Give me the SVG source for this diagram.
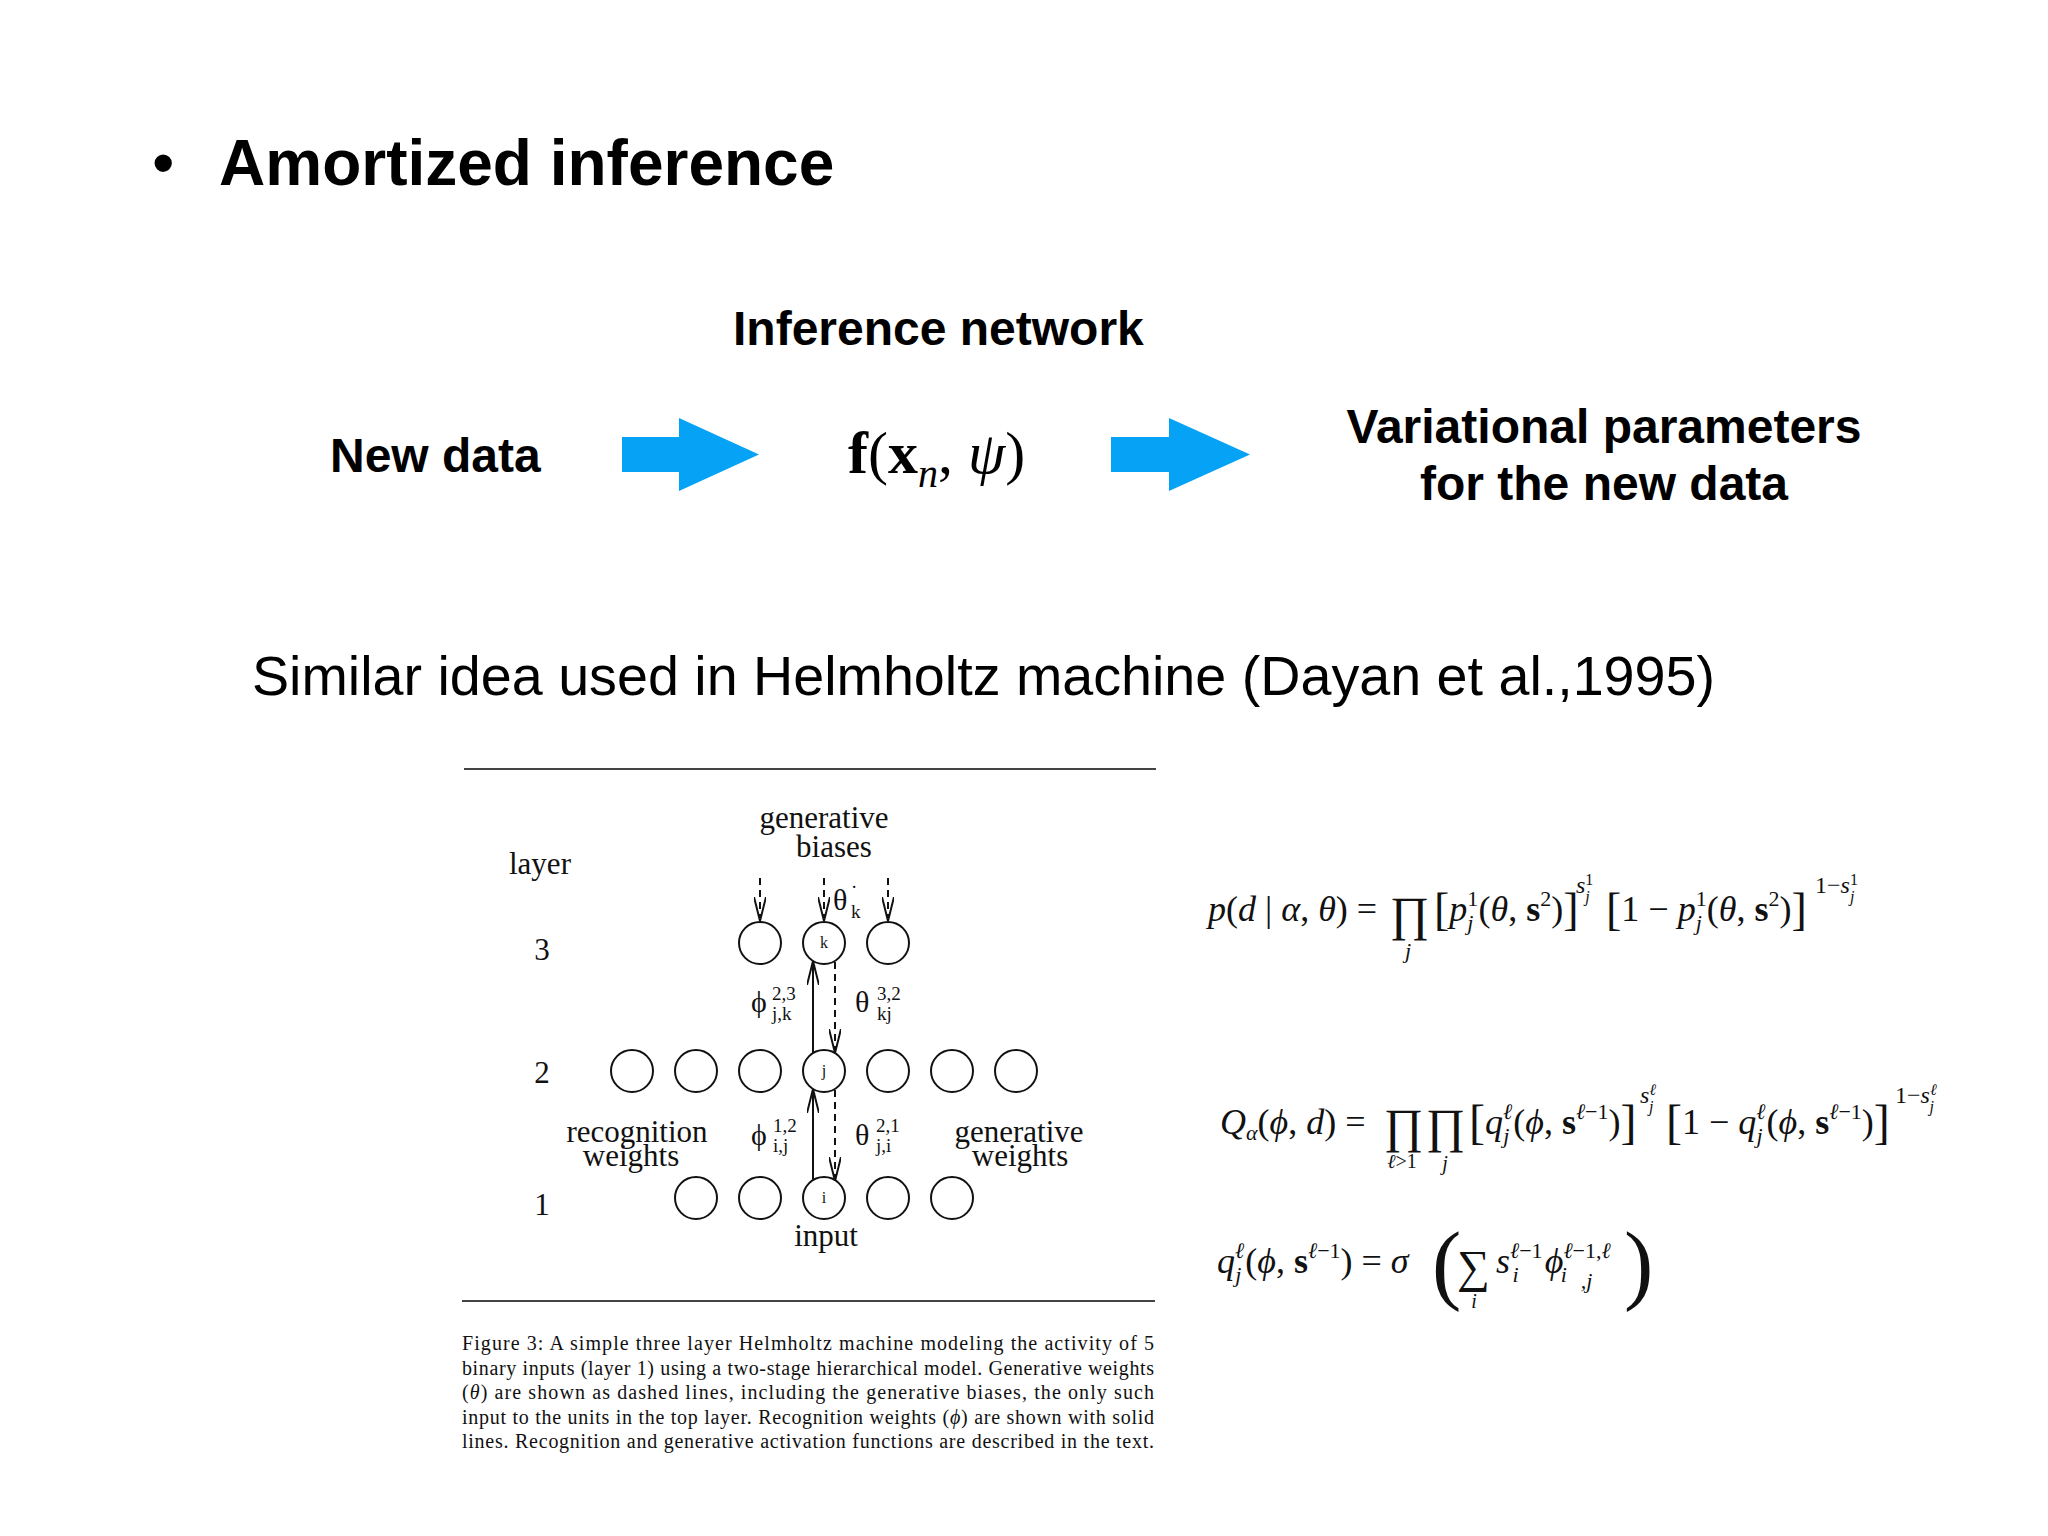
<svg xmlns="http://www.w3.org/2000/svg" width="2048" height="1536" viewBox="0 0 2048 1536">
<defs>
<style>
.sans{font-family:"Liberation Sans",Arial,sans-serif;fill:#000}
.b{font-weight:bold}
.ser{font-family:"Liberation Serif","DejaVu Serif",serif;fill:#111}
.it{font-style:italic}
.lab{font-size:31px}
.cap{font-size:20px}
.eq{font-size:36px}
.node{fill:none;stroke:#111;stroke-width:2}
.solid{stroke:#111;stroke-width:2;fill:none}
.dash{stroke:#111;stroke-width:2;fill:none;stroke-dasharray:7 5}
.blue{fill:#05a2f5}
.rule{stroke:#444;stroke-width:2}
</style>
<marker id="vh" viewBox="0 0 24 12" refX="24" refY="6" markerWidth="24" markerHeight="12" markerUnits="userSpaceOnUse" orient="auto">
<path d="M0,0 L24,6 L0,12" fill="none" stroke="#111" stroke-width="2"/>
</marker>
</defs>
<rect width="2048" height="1536" fill="#fff"/>

<g id="title">
<text class="sans" x="152" y="185" font-size="64">•</text>
<text class="sans b" x="219" y="185" font-size="64">Amortized inference</text>
</g>

<g id="inference-label"><text class="sans b" x="733" y="345" font-size="48">Inference network</text></g>
<g id="new-data"><text class="sans b" x="330" y="472" font-size="48">New data</text></g>
<g id="func"><text class="ser" x="848" y="473" font-size="60" style="fill:#000"><tspan font-weight="bold">f</tspan>(<tspan font-weight="bold">x</tspan><tspan class="it" font-size="40" dy="14">n</tspan><tspan dy="-14">,</tspan> <tspan class="it">ψ</tspan>)</text></g>
<g id="var-params">
<text class="sans b" x="1604" y="443" font-size="48" text-anchor="middle">Variational parameters</text>
<text class="sans b" x="1604" y="500" font-size="48" text-anchor="middle">for the new data</text>
</g>
<g id="big-arrows">
<polygon class="blue" points="622,437 679,437 679,418 759,454.5 679,491 679,472 622,472"/>
<polygon class="blue" points="1111,437 1169,437 1169,418 1250,454.5 1169,491 1169,472 1111,472"/>
</g>

<g id="similar"><text class="sans" x="252" y="695" font-size="56" textLength="1463" lengthAdjust="spacingAndGlyphs">Similar idea used in Helmholtz machine (Dayan et al.,1995)</text></g>

<line class="rule" x1="464" y1="769" x2="1156" y2="769"/>
<line class="rule" x1="462" y1="1301" x2="1155" y2="1301"/>

<g id="fig-labels" class="ser lab">
<text x="509" y="874">layer</text>
<text x="824" y="828" text-anchor="middle">generative</text>
<text x="834" y="857" text-anchor="middle">biases</text>
<text x="542" y="960" text-anchor="middle">3</text>
<text x="542" y="1083" text-anchor="middle">2</text>
<text x="542" y="1215" text-anchor="middle">1</text>
<text x="637" y="1142" text-anchor="middle">recognition</text>
<text x="631" y="1166" text-anchor="middle">weights</text>
<text x="1019" y="1142" text-anchor="middle">generative</text>
<text x="1020" y="1166" text-anchor="middle">weights</text>
<text x="826" y="1246" text-anchor="middle">input</text>
</g>

<g id="weight-labels" class="ser">
<text x="833" y="910" font-size="30">θ</text>
<text x="851" y="893" font-size="19">·</text>
<text x="851" y="918" font-size="19">k</text>
<text x="751" y="1012" font-size="30">ϕ</text>
<text x="772" y="1000" font-size="19">2,3</text>
<text x="772" y="1020" font-size="19">j,k</text>
<text x="855" y="1012" font-size="30">θ</text>
<text x="877" y="1000" font-size="19">3,2</text>
<text x="877" y="1020" font-size="19">kj</text>
<text x="751" y="1145" font-size="30">ϕ</text>
<text x="773" y="1132" font-size="19">1,2</text>
<text x="773" y="1152" font-size="19">i,j</text>
<text x="855" y="1145" font-size="30">θ</text>
<text x="876" y="1132" font-size="19">2,1</text>
<text x="876" y="1152" font-size="19">j,i</text>
</g>

<g id="layer3">
<g id="n3a"><circle class="node" cx="760" cy="943" r="21"/></g>
<g id="n3k"><circle class="node" cx="824" cy="943" r="21"/><text class="ser" x="824" y="948" font-size="16" text-anchor="middle">k</text></g>
<g id="n3c"><circle class="node" cx="888" cy="943" r="21"/></g>
</g>
<g id="layer2">
<g id="n2a"><circle class="node" cx="632" cy="1071" r="21"/></g>
<g id="n2b"><circle class="node" cx="696" cy="1071" r="21"/></g>
<g id="n2c"><circle class="node" cx="760" cy="1071" r="21"/></g>
<g id="n2j"><circle class="node" cx="824" cy="1071" r="21"/><text class="ser" x="824" y="1076" font-size="16" text-anchor="middle">j</text></g>
<g id="n2e"><circle class="node" cx="888" cy="1071" r="21"/></g>
<g id="n2f"><circle class="node" cx="952" cy="1071" r="21"/></g>
<g id="n2g"><circle class="node" cx="1016" cy="1071" r="21"/></g>
</g>
<g id="layer1">
<g id="n1a"><circle class="node" cx="696" cy="1198" r="21"/></g>
<g id="n1b"><circle class="node" cx="760" cy="1198" r="21"/></g>
<g id="n1i"><circle class="node" cx="824" cy="1198" r="21"/><text class="ser" x="824" y="1203" font-size="16" text-anchor="middle">i</text></g>
<g id="n1d"><circle class="node" cx="888" cy="1198" r="21"/></g>
<g id="n1e"><circle class="node" cx="952" cy="1198" r="21"/></g>
</g>

<g id="connectors">
<line class="dash" x1="760" y1="878" x2="760" y2="921" marker-end="url(#vh)"/>
<line class="dash" x1="824" y1="878" x2="824" y2="921" marker-end="url(#vh)"/>
<line class="dash" x1="888" y1="878" x2="888" y2="921" marker-end="url(#vh)"/>
<line class="solid" x1="813" y1="1053" x2="813" y2="961" marker-end="url(#vh)"/>
<line class="dash" x1="835" y1="962" x2="835" y2="1053" marker-end="url(#vh)"/>
<line class="solid" x1="813" y1="1180" x2="813" y2="1089" marker-end="url(#vh)"/>
<line class="dash" x1="835" y1="1090" x2="835" y2="1181" marker-end="url(#vh)"/>
</g>

<g id="caption" class="ser cap">
<text x="462" y="1350" textLength="692" lengthAdjust="spacing">Figure 3: A simple three layer Helmholtz machine modeling the activity of 5</text>
<text x="462" y="1374.5" textLength="692" lengthAdjust="spacing">binary inputs (layer 1) using a two-stage hierarchical model. Generative weights</text>
<text x="462" y="1399" textLength="692" lengthAdjust="spacing">(<tspan class="it">θ</tspan>) are shown as dashed lines, including the generative biases, the only such</text>
<text x="462" y="1423.5" textLength="692" lengthAdjust="spacing">input to the units in the top layer. Recognition weights (<tspan class="it">ϕ</tspan>) are shown with solid</text>
<text x="462" y="1448" textLength="692" lengthAdjust="spacing">lines. Recognition and generative activation functions are described in the text.</text>
</g>

<g id="eq1" class="ser eq">
<text x="1208" y="921"><tspan class="it">p</tspan>(<tspan class="it">d</tspan> | <tspan class="it">α</tspan>, <tspan class="it">θ</tspan>) =</text>
<text x="1390" y="930" font-size="48">∏</text>
<text x="1405" y="958" font-size="22" class="it">j</text>
<text x="1434" y="921"><tspan font-size="46" dy="4">[</tspan><tspan dy="-4" class="it">p</tspan><tspan font-size="22" dy="-15">1</tspan><tspan font-size="22" class="it" dx="-11" dy="24">j</tspan><tspan dx="5" dy="-9">(</tspan><tspan class="it">θ</tspan>, <tspan font-weight="bold">s</tspan><tspan font-size="22" dy="-15">2</tspan><tspan dy="15">)</tspan><tspan font-size="46" dy="4">]</tspan></text>
<text x="1576" y="893" font-size="24"><tspan class="it">s</tspan><tspan font-size="16" dy="-8">1</tspan><tspan font-size="16" class="it" dx="-8" dy="17">j</tspan></text>
<text x="1606" y="921"><tspan font-size="46" dy="4">[</tspan><tspan dy="-4">1 − </tspan><tspan class="it">p</tspan><tspan font-size="22" dy="-15">1</tspan><tspan font-size="22" class="it" dx="-11" dy="24">j</tspan><tspan dx="5" dy="-9">(</tspan><tspan class="it">θ</tspan>, <tspan font-weight="bold">s</tspan><tspan font-size="22" dy="-15">2</tspan><tspan dy="15">)</tspan><tspan font-size="46" dy="4">]</tspan></text>
<text x="1815" y="893" font-size="24">1−<tspan class="it">s</tspan><tspan font-size="16" dy="-8">1</tspan><tspan font-size="16" class="it" dx="-8" dy="17">j</tspan></text>
</g>

<g id="eq2" class="ser eq">
<text x="1220" y="1134"><tspan class="it">Q</tspan><tspan font-size="22" class="it" dy="6">α</tspan><tspan dy="-6">(</tspan><tspan class="it">ϕ</tspan>, <tspan class="it">d</tspan>) =</text>
<text x="1384" y="1142" font-size="48">∏</text>
<text x="1426" y="1142" font-size="48">∏</text>
<text x="1402" y="1168" font-size="20" text-anchor="middle"><tspan class="it">ℓ</tspan>&gt;1</text>
<text x="1445" y="1170" font-size="20" class="it" text-anchor="middle">j</text>
<text x="1469" y="1134"><tspan font-size="48" dy="4">[</tspan><tspan dy="-4" class="it">q</tspan><tspan font-size="22" class="it" dy="-15">ℓ</tspan><tspan font-size="22" class="it" dx="-9" dy="24">j</tspan><tspan dx="4" dy="-9">(</tspan><tspan class="it">ϕ</tspan>, <tspan font-weight="bold">s</tspan><tspan font-size="22" dy="-15"><tspan class="it">ℓ</tspan>−1</tspan><tspan dy="15">)</tspan><tspan font-size="48" dy="4">]</tspan></text>
<text x="1640" y="1103" font-size="24"><tspan class="it">s</tspan><tspan font-size="16" class="it" dy="-8">ℓ</tspan><tspan font-size="16" class="it" dx="-7" dy="17">j</tspan></text>
<text x="1666" y="1134"><tspan font-size="48" dy="4">[</tspan><tspan dy="-4">1 − </tspan><tspan class="it">q</tspan><tspan font-size="22" class="it" dy="-15">ℓ</tspan><tspan font-size="22" class="it" dx="-9" dy="24">j</tspan><tspan dx="4" dy="-9">(</tspan><tspan class="it">ϕ</tspan>, <tspan font-weight="bold">s</tspan><tspan font-size="22" dy="-15"><tspan class="it">ℓ</tspan>−1</tspan><tspan dy="15">)</tspan><tspan font-size="48" dy="4">]</tspan></text>
<text x="1895" y="1103" font-size="24">1−<tspan class="it">s</tspan><tspan font-size="16" class="it" dy="-8">ℓ</tspan><tspan font-size="16" class="it" dx="-7" dy="17">j</tspan></text>
</g>

<g id="eq3" class="ser eq">
<text x="1217" y="1273"><tspan class="it">q</tspan><tspan font-size="22" class="it" dy="-15">ℓ</tspan><tspan font-size="22" class="it" dx="-9" dy="24">j</tspan><tspan dx="4" dy="-9">(</tspan><tspan class="it">ϕ</tspan>, <tspan font-weight="bold">s</tspan><tspan font-size="22" dy="-15"><tspan class="it">ℓ</tspan>−1</tspan><tspan dy="15">) = </tspan><tspan class="it">σ</tspan></text>
<text x="1432" y="1293" font-size="88">(</text>
<text x="1457" y="1282" font-size="46">∑</text>
<text x="1474" y="1308" font-size="20" class="it" text-anchor="middle">i</text>
<text x="1496" y="1273"><tspan class="it">s</tspan><tspan font-size="22" dy="-15"><tspan class="it">ℓ</tspan>−1</tspan><tspan font-size="22" class="it" dx="-30" dy="24">i</tspan><tspan dx="26" dy="-9" class="it">ϕ</tspan><tspan font-size="22" dy="-15"><tspan class="it">ℓ</tspan>−1,<tspan class="it">ℓ</tspan></tspan><tspan font-size="22" class="it" dx="-50" dy="24">i</tspan><tspan font-size="22" class="it" dx="14" dy="6">,j</tspan></text>
<text x="1624" y="1293" font-size="88">)</text>
</g>
</svg>
